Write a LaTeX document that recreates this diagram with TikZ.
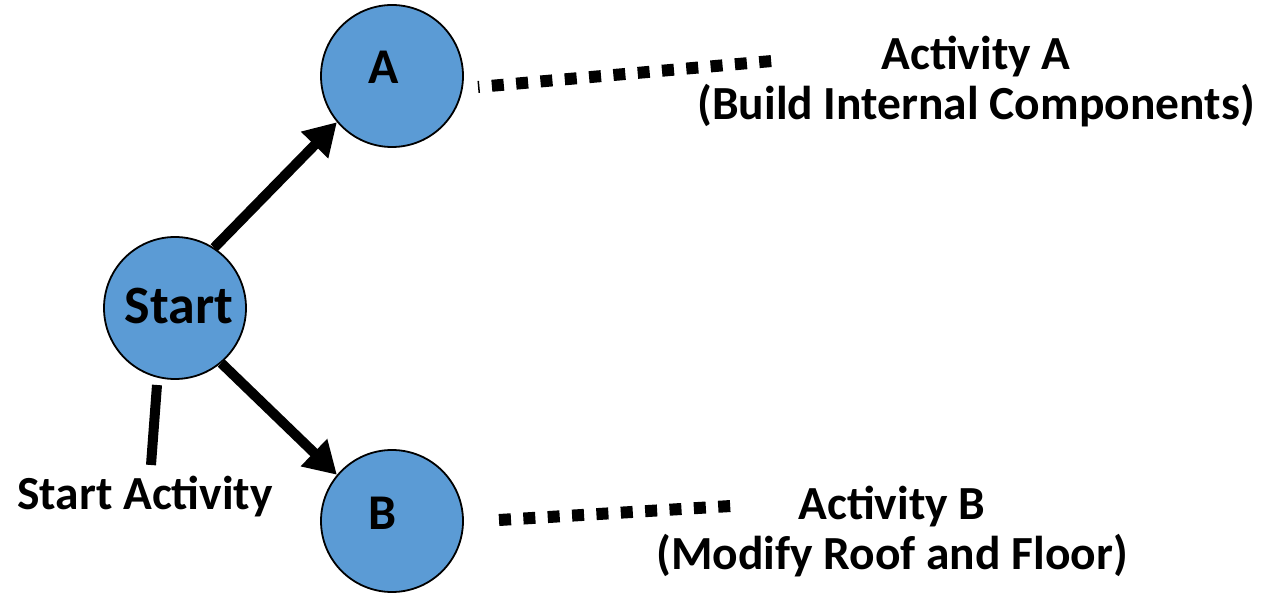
\documentclass[tikz,border=0pt]{standalone}
\usepackage{fontspec}
\setmainfont{Carlito}
\usetikzlibrary{arrows.meta}
\definecolor{nodeblue}{HTML}{5B9BD5}
\begin{document}
\begin{tikzpicture}[x=1pt,y=-1pt,
  event/.style={circle,draw=black,line width=1.8pt,fill=nodeblue,minimum size=142pt,inner sep=0pt},
  evtext/.style={font=\bfseries\fontsize{50}{56}\selectfont,inner sep=0pt},
  lbl/.style={font=\bfseries\fontsize{47.5}{50}\selectfont,align=center,inner sep=0pt},
  flow/.style={line width=10pt,-{Triangle[length=32pt,width=36pt]}},
  lead/.style={line width=10pt},
  dotlead/.style={line width=12pt,dash pattern=on 12pt off 12.4pt,dash phase=10.5pt}]
\useasboundingbox (0,0) rectangle (1264,593);
\node[event,label={[evtext,font=\bfseries\fontsize{54}{60}\selectfont,shift={(4,-2)}]center:Start}] (S) at (175,308) {};
\node[event,label={[evtext,shift={(-8,-8.5)}]center:A}] (A) at (392,76) {};
\node[event,label={[evtext,shift={(-9,-7.5)}]center:B}] (B) at (392,521) {};
\node[lbl] (SL) at (145,497) {Start Activity};
\node[lbl] (AL) at (976,82) {Activity A\\(Build Internal Components)};
\node[lbl] (BL) at (892,532) {Activity B\\(Modify Roof and Floor)};
\draw[flow] (S.57) -- (A.220);
\draw[flow] (S.-50) -- (B.140);
\coordinate (s1) at (157,385);
\coordinate (s2) at (151,465);
\draw[lead] (s1) -- (s2);
\coordinate (a1) at (478,87);
\coordinate (a2) at (772,61);
\draw[dotlead] (a1) -- (a2);
\coordinate (b1) at (499,520);
\coordinate (b2) at (731,506);
\draw[dotlead,dash phase=0pt] (b1) -- (b2);
\end{tikzpicture}
\end{document}
